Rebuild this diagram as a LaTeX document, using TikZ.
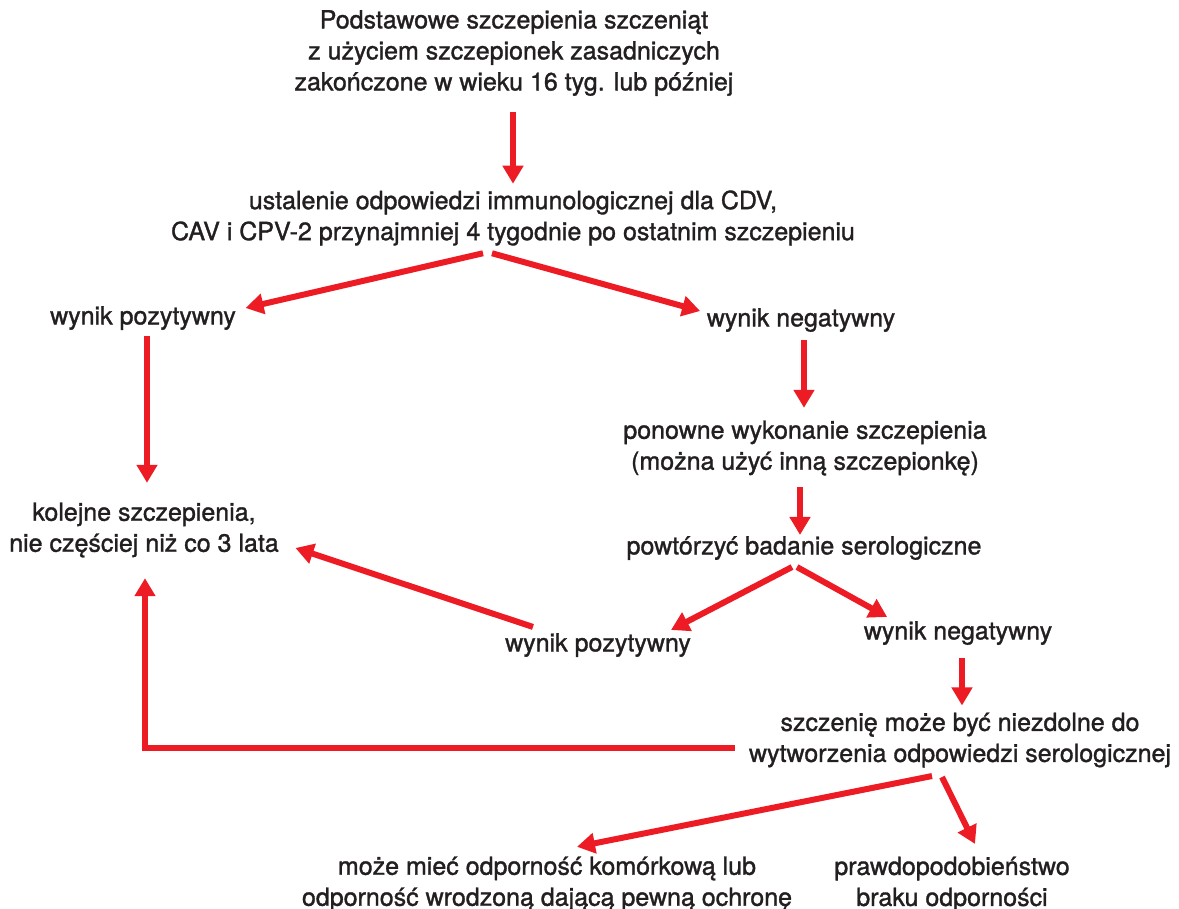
\documentclass[tikz,border=0pt]{standalone}
\usepackage{fontspec}
\setmainfont{TeX Gyre Heros}[RawFeature={embolden=1.3}]
\usetikzlibrary{arrows.meta}
\definecolor{alertred}{HTML}{ED1C24}
\definecolor{inkgray}{HTML}{231F20}

\begin{document}
\begin{tikzpicture}[x=1pt,y=-1pt,>={Triangle[width=20pt,length=18pt]},
  txt/.style={align=center,inner sep=0pt,text=inkgray,font=\fontsize{25}{31}\selectfont},
  arr/.style={->,alertred,line width=6pt}]
\useasboundingbox (0,0) rectangle (1179,909);
\node[txt] (basic) at (514,53) {Podstawowe szczepienia szczeniąt\\z użyciem szczepionek zasadniczych\\zakończone w wieku 16 tyg. lub później};
\node[txt] (titer) at (513,218) {ustalenie odpowiedzi immunologicznej dla CDV,\\CAV i CPV-2 przynajmniej 4 tygodnie po ostatnim szczepieniu};
\node[txt] (pos1) at (143,318) {wynik pozytywny};
\node[txt] (neg1) at (801,320) {wynik negatywny};
\node[txt] (revac) at (805,448) {ponowne wykonanie szczepienia\\(można użyć inną szczepionkę)};
\node[txt] (retest) at (804,548) {powtórzyć badanie serologiczne};
\node[txt] (next) at (144,530) {kolejne szczepienia,\\nie częściej niż co 3 lata};
\node[txt] (pos2) at (598,645) {wynik pozytywny};
\node[txt] (neg2) at (958,633) {wynik negatywny};
\node[txt] (nonresp) at (960,740) {szczenię może być niezdolne do\\wytworzenia odpowiedzi serologicznej};
\node[txt] (cellular) at (547,884) {może mieć odporność komórkową lub\\odporność wrodzoną dającą pewną ochronę};
\node[txt] (noimm) at (952,884) {prawdopodobieństwo\\braku odporności};

\draw[arr] ([xshift=-1pt,yshift=-16pt]basic.south) -- ([yshift=6.5pt]titer.north);
\draw[arr] ([xshift=-30pt,yshift=-7.5pt]titer.south) -- ([xshift=9.5pt,yshift=10pt]pos1.east);
\draw[arr] ([xshift=-21pt,yshift=-7.5pt]titer.south) -- ([xshift=-6.5pt,yshift=9pt]neg1.west);
\draw[arr] ([xshift=4pt,yshift=-6pt]pos1.south) -- ([xshift=3pt,yshift=19.5pt]next.north);
\draw[arr] ([xshift=3pt,yshift=-8pt]neg1.south) -- ([xshift=-1pt,yshift=12.5pt]revac.north);
\draw[arr] ([xshift=-5pt,yshift=-11.5pt]revac.south) -- ([xshift=-4pt,yshift=1pt]retest.north);
\draw[arr] ([xshift=-12pt,yshift=-7pt]retest.south) -- ([xshift=-20pt,yshift=3pt]pos2.north east);
\draw[arr] ([xshift=-7pt,yshift=-7pt]retest.south) -- ([xshift=23.5pt,yshift=4pt]neg2.north west);
\draw[arr] ([xshift=28pt,yshift=6pt]pos2.north west) -- ([xshift=16.5pt,yshift=-18pt]next.east);
\draw[arr] ([xshift=4pt,yshift=-13pt]neg2.south) -- ([xshift=2pt,yshift=7pt]nonresp.north);
\draw[arr] ([xshift=-14pt,yshift=-8pt]nonresp.west) -| ([xshift=1pt,yshift=-20.5pt]next.south);
\draw[arr] ([xshift=-28pt,yshift=-8.5pt]nonresp.south) -- ([xshift=30pt,yshift=9.5pt]cellular.north);
\draw[arr] ([xshift=-18pt,yshift=-9.5pt]nonresp.south) -- ([xshift=23pt,yshift=12.5pt]noimm.north);
\end{tikzpicture}
\end{document}
